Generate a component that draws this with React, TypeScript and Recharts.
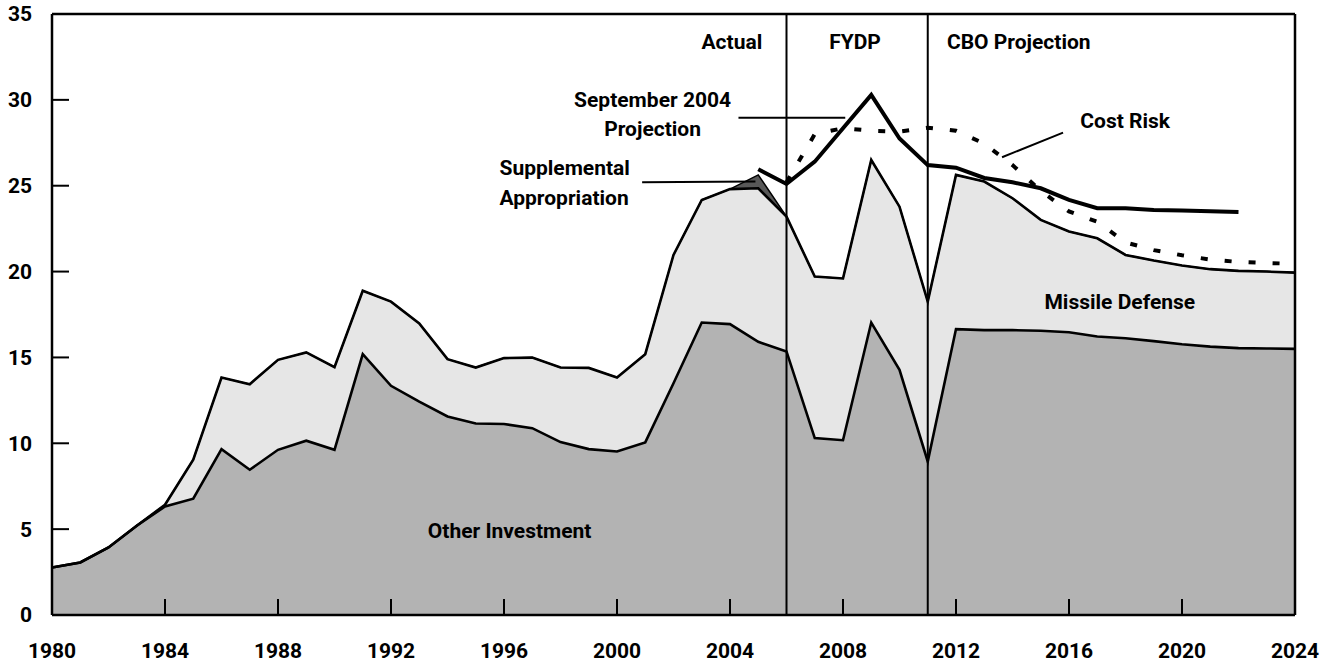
import {
  ComposedChart,
  Area,
  Line,
  Scatter,
  XAxis,
  YAxis,
  ReferenceLine,
  ReferenceDot,
} from 'recharts';

const years = Array.from({ length: 45 }, (_, i) => 1980 + i);

// billions of dollars
const otherInvestment = [
  2.77, 3.06, 3.93, 5.2, 6.32, 6.77, 9.66, 8.46, 9.62, 10.15,
  9.62, 15.19, 13.35, 12.43, 11.56, 11.15, 11.12, 10.88, 10.07, 9.66,
  9.52, 10.05, 13.5, 17.03, 16.94, 15.91, 15.35, 10.3, 10.18, 17.03,
  14.28, 8.94, 16.65, 16.59, 16.59, 16.55, 16.47, 16.22, 16.12, 15.95,
  15.77, 15.63, 15.54, 15.52, 15.5,
];

const missileDefense = [
  0, 0, 0, 0, 0.1, 2.27, 4.17, 4.98, 5.24, 5.14,
  4.81, 3.69, 4.9, 4.55, 3.34, 3.26, 3.84, 4.11, 4.34, 4.73,
  4.31, 5.14, 7.47, 7.14, 7.86, 8.94, 7.85, 9.41, 9.42, 9.47,
  9.5, 9.31, 8.98, 8.65, 7.68, 6.46, 5.86, 5.72, 4.85, 4.69,
  4.58, 4.51, 4.5, 4.48, 4.44,
];

const supplementalYears = [2004, 2005, 2006];
const supplemental = [0, 0.78, 0];

const sept2004Years = [
  2005, 2006, 2007, 2008, 2009, 2010, 2011, 2012, 2013, 2014,
  2015, 2016, 2017, 2018, 2019, 2020, 2021, 2022,
];
const sept2004 = [
  25.96, 25.1, 26.4, 28.35, 30.29, 27.75, 26.2, 26.05, 25.45, 25.2,
  24.85, 24.17, 23.69, 23.69, 23.59, 23.55, 23.51, 23.47,
];

const costRiskYears = [
  2006, 2007, 2008, 2009, 2010, 2011, 2012, 2013, 2014, 2015,
  2016, 2017, 2018, 2019, 2020, 2021, 2022, 2023, 2024,
];
const costRisk = [
  25.2, 28.0, 28.35, 28.2, 28.15, 28.38, 28.2, 27.45, 26.2, 24.7,
  23.5, 22.9, 21.7, 21.25, 20.95, 20.7, 20.56, 20.5, 20.45,
];

const xTicks = [1980, 1984, 1988, 1992, 1996, 2000, 2004, 2008, 2012, 2016, 2020, 2024];
const yTicks = [0, 5, 10, 15, 20, 25, 30, 35];

const data = years.map((year, i) => {
  const s = supplementalYears.indexOf(year);
  const p = sept2004Years.indexOf(year);
  const c = costRiskYears.indexOf(year);
  return {
    year,
    other: otherInvestment[i],
    missile: missileDefense[i],
    supp: s >= 0 ? supplemental[s] : 0,
    total: +(otherInvestment[i] + missileDefense[i]).toFixed(2),
    sept: p >= 0 ? sept2004[p] : null,
    cost: c >= 0 ? costRisk[c] : null,
  };
});

// positions of the inward tick marks, taken from the tick lists
const yTickMarks = yTicks.slice(1, -1).map((v) => ({ year: 1980, mark: v }));
const xTickMarks = xTicks.slice(1, -1).map((v) => ({ year: v, mark: 0 }));

const font = { fontFamily: 'Roboto, "Open Sans", sans-serif', fontWeight: 700, fontSize: 21, fill: '#000' };

const textShape = (text: string, anchor: 'start' | 'middle' | 'end') => (props: any) => (
  <text x={props.cx} y={props.cy} textAnchor={anchor} dominantBaseline="central" style={font}>
    {text}
  </text>
);

const hTick = (props: any) => (
  <path d={`M${props.cx},${props.cy}h17`} stroke="#000" strokeWidth={2} fill="none" />
);
const vTick = (props: any) => (
  <path d={`M${props.cx},${props.cy}v-16`} stroke="#000" strokeWidth={2} fill="none" />
);

export default function App() {
  return (
    <div style={{ position: 'absolute', left: 0, top: 0, background: '#fff' }}>
      <ComposedChart
        width={1331}
        height={664}
        data={data}
        margin={{ top: 14, right: 36, left: 0, bottom: 0 }}
      >
        <XAxis
          dataKey="year"
          type="number"
          domain={[1980, 2024]}
          ticks={xTicks}
          height={49}
          tickSize={0}
          tickMargin={28}
          tick={font}
          tickLine={false}
          axisLine={{ stroke: '#000', strokeWidth: 2.5 }}
        />
        <YAxis
          type="number"
          domain={[0, 35]}
          ticks={yTicks}
          width={52}
          tickSize={0}
          tickMargin={20}
          tick={font}
          tickLine={false}
          axisLine={{ stroke: '#000', strokeWidth: 2.5 }}
        />
        <Area dataKey="other" stackId="a" fill="#b3b3b3" fillOpacity={1} stroke="none" isAnimationActive={false} />
        <Area dataKey="missile" stackId="a" fill="#e6e6e6" fillOpacity={1} stroke="none" isAnimationActive={false} />
        <Area dataKey="supp" stackId="a" fill="#585858" fillOpacity={1} stroke="#000" strokeWidth={1.5} isAnimationActive={false} />
        <Line dataKey="other" stroke="#000" strokeWidth={2.6} dot={false} activeDot={false} isAnimationActive={false} />
        <Line dataKey="total" stroke="#000" strokeWidth={2.6} dot={false} activeDot={false} isAnimationActive={false} />
        <Scatter data={yTickMarks} dataKey="mark" shape={hTick} isAnimationActive={false} />
        <Scatter data={xTickMarks} dataKey="mark" shape={vTick} isAnimationActive={false} />
        <ReferenceLine y={35} stroke="#000" strokeWidth={2.5} />
        <ReferenceLine x={2024} stroke="#000" strokeWidth={2.5} />
        <ReferenceLine x={2006} stroke="#000" strokeWidth={2} />
        <ReferenceLine x={2011} stroke="#000" strokeWidth={2} />
        <Line dataKey="cost" stroke="#000" strokeWidth={4} strokeDasharray="7 17" dot={false} activeDot={false} isAnimationActive={false} />
        <Line dataKey="sept" stroke="#000" strokeWidth={4} strokeLinejoin="miter" dot={false} activeDot={false} isAnimationActive={false} />
        <ReferenceLine segment={[{ x: 2004.3, y: 28.96 }, { x: 2008.08, y: 28.96 }]} stroke="#000" strokeWidth={2} />
        <ReferenceLine segment={[{ x: 2000.89, y: 25.2 }, { x: 2004.9, y: 25.24 }]} stroke="#000" strokeWidth={2} />
        <ReferenceLine segment={[{ x: 2015.79, y: 28.09 }, { x: 2013.63, y: 26.66 }]} stroke="#000" strokeWidth={2} />
        <ReferenceDot x={2005.14} y={33.39} r={0} shape={textShape('Actual', 'end')} />
        <ReferenceDot x={2007.51} y={33.39} r={0} shape={textShape('FYDP', 'start')} />
        <ReferenceDot x={2011.68} y={33.39} r={0} shape={textShape('CBO Projection', 'start')} />
        <ReferenceDot x={2001.26} y={29.99} r={0} shape={textShape('September 2004', 'middle')} />
        <ReferenceDot x={2001.26} y={28.29} r={0} shape={textShape('Projection', 'middle')} />
        <ReferenceDot x={1995.84} y={26.02} r={0} shape={textShape('Supplemental', 'start')} />
        <ReferenceDot x={1995.84} y={24.27} r={0} shape={textShape('Appropriation', 'start')} />
        <ReferenceDot x={2016.4} y={28.78} r={0} shape={textShape('Cost Risk', 'start')} />
        <ReferenceDot x={2017.8} y={18.25} r={0} shape={textShape('Missile Defense', 'middle')} />
        <ReferenceDot x={1996.2} y={4.9} r={0} shape={textShape('Other Investment', 'middle')} />
      </ComposedChart>
    </div>
  );
}
